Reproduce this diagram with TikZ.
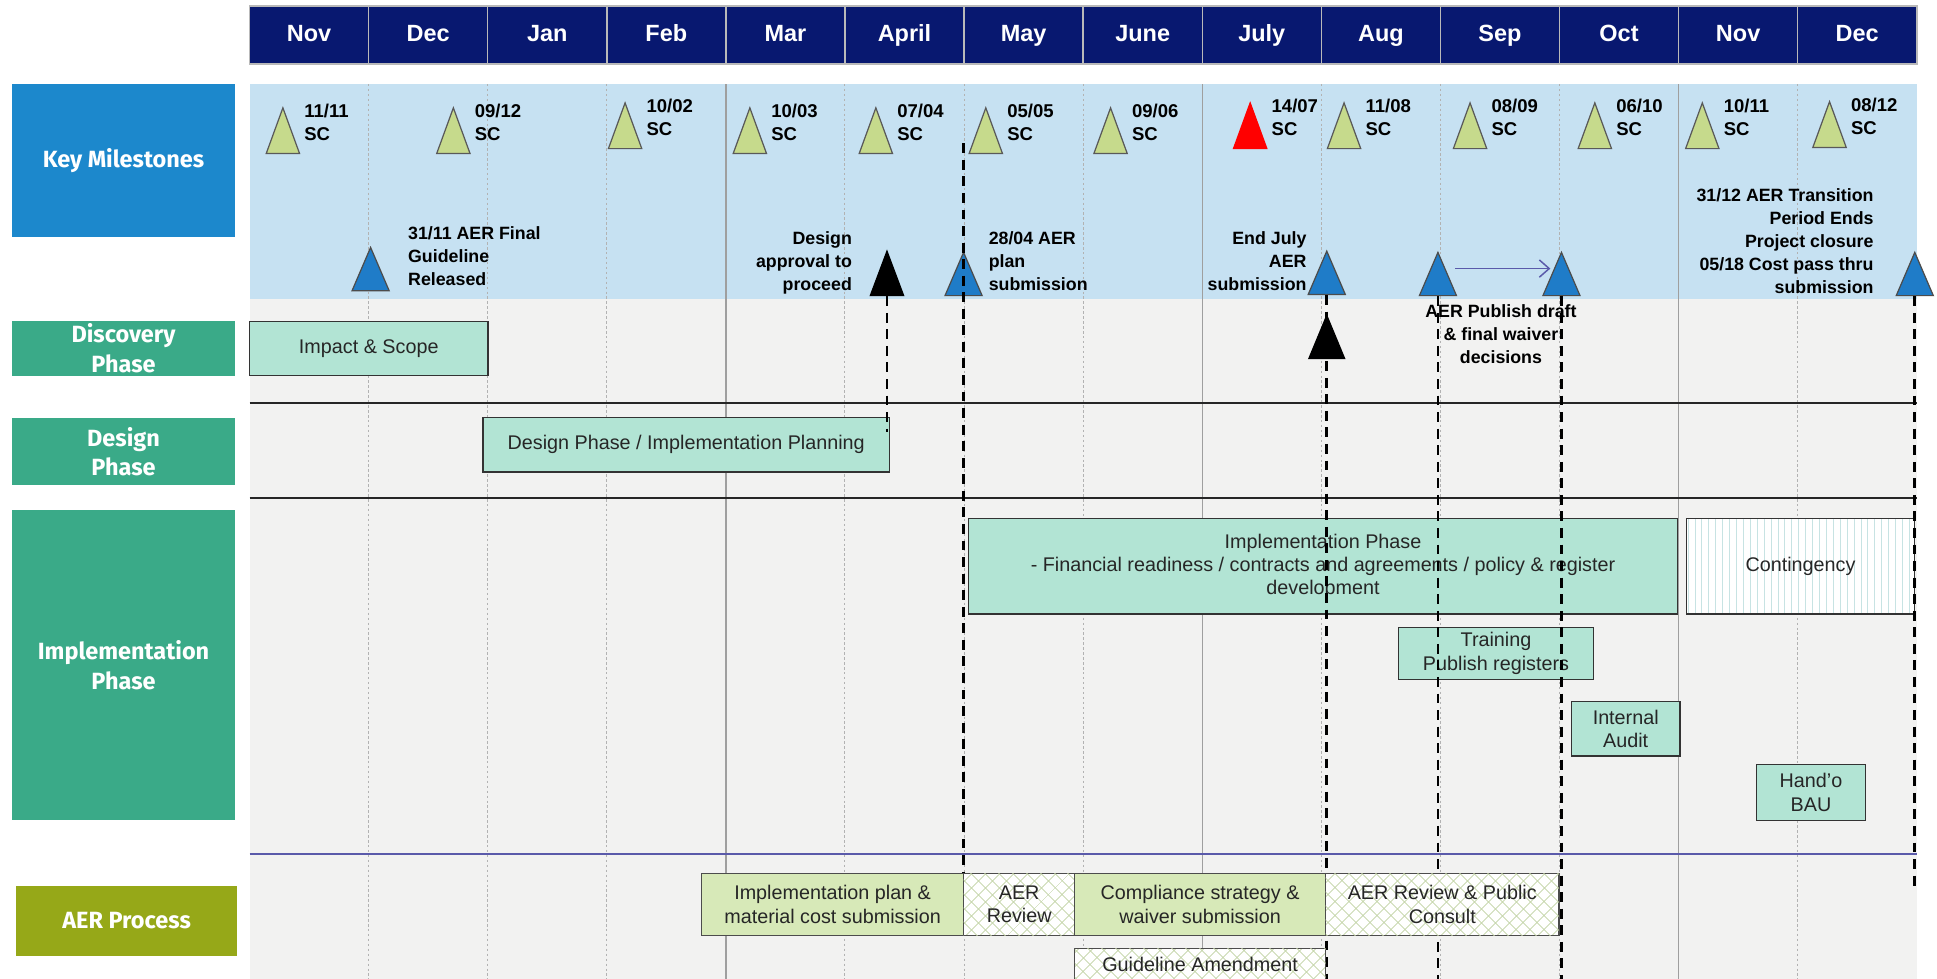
\documentclass[tikz,border=0pt]{standalone}
\usepackage{fontspec}
\setmainfont{Liberation Sans}
\newfontfamily\headfont{Fira Sans}
\usepackage{tikz}
\usetikzlibrary{positioning}
\usetikzlibrary{shapes.geometric}
\usetikzlibrary{arrows.meta}
\usetikzlibrary{patterns.meta}
\definecolor{navy}{RGB}{8,24,112}
\definecolor{keyblue}{RGB}{28,136,204}
\definecolor{bandblue}{RGB}{198,225,242}
\definecolor{field}{RGB}{242,242,241}
\definecolor{phasegreen}{RGB}{58,170,136}
\definecolor{aerolive}{RGB}{150,168,24}
\definecolor{mint}{RGB}{178,228,212}
\definecolor{aergreen}{RGB}{215,233,184}
\definecolor{scgreen}{RGB}{198,218,140}
\definecolor{dueblue}{RGB}{31,124,200}
\definecolor{hatchgreen}{RGB}{196,212,168}
\definecolor{lanepurple}{RGB}{90,90,170}
\tikzset{
  box/.style            = { rectangle, inner sep=1pt, outer sep=0pt, align=center },
  border/.style         = { draw=black!80, line width=0.5pt },
  month/.style          = { box, fill=navy, draw=gray!55, line width=0.6pt, text=white,
                            font=\bfseries\fontsize{9.5}{11}\selectfont,
                            text height=7pt, text depth=2pt,
                            minimum width=48.2pt, minimum height=23.5pt },
  rowhead/.style        = { box, anchor=north west, text=white, minimum width=90pt,
                            font=\headfont\bfseries\fontsize{9.5}{12}\selectfont },
  milestones/.style     = { rowhead, fill=keyblue },
  phase/.style          = { rowhead, fill=phasegreen },
  process/.style        = { rowhead, fill=aerolive },
}
\tikzset{
  task/.style           = { box, border, anchor=north west, fill=mint, text=black!85,
                            font=\fontsize{8}{9.5}\selectfont },
  submit/.style         = { task, fill=aergreen, draw=black!70 },
  review/.style         = { task, draw=black!70, preaction={fill=white},
                            pattern={Lines[angle=45,distance=4pt,line width=0.4pt]},
                            pattern color=hatchgreen,
                            postaction={pattern={Lines[angle=-45,distance=4pt,line width=0.4pt]},
                                        pattern color=hatchgreen} },
  spare/.style          = { task, preaction={fill=white},
                            pattern={Lines[angle=90,distance=2.8pt,line width=0.3pt]},
                            pattern color=teal!22 },
  sc/.style             = { isosceles triangle, isosceles triangle stretches,
                            shape border rotate=90, anchor=apex, inner sep=0pt,
                            minimum width=13.5pt, minimum height=18.5pt,
                            fill=scgreen, draw=black!65, line width=0.5pt },
  due/.style            = { sc, fill=dueblue, draw=black!70,
                            minimum width=15pt, minimum height=17.5pt },
  gate/.style           = { sc, fill=black, draw=black,
                            minimum width=13.5pt, minimum height=18pt },
  scdate/.style         = { anchor=north west, inner sep=0pt, align=left,
                            font=\bfseries\fontsize{7.5}{9.2}\selectfont },
  msnote/.style         = { inner sep=0pt, font=\bfseries\fontsize{7.2}{9.3}\selectfont },
  minor/.style          = { draw=gray!60, line width=0.4pt, dash pattern=on 1pt off 1pt },
  major/.style          = { draw=gray!75, line width=0.5pt },
  rule/.style           = { draw=black!85, line width=0.7pt },
  lane/.style           = { draw=lanepurple, line width=0.8pt },
  mline/.style          = { draw=black, line width=1.1pt, dash pattern=on 4pt off 2.7pt },
  flow/.style           = { draw=lanepurple, line width=0.6pt,
                            -{Straight Barb[length=4pt,width=7pt]} }
}
\begin{document}
\begin{tikzpicture}[x=0.5pt, y=-0.5pt]
  \clip (0,0) rectangle (1568,792);
  \coordinate (gridtop)  at (0,68);
  \coordinate (floor)    at (0,800);
  \coordinate (aerline)  at (0,707);
  \coordinate (endmark)  at (0,720);
  \coordinate (top0428)  at (780,116);

  % backdrop
  \fill [bandblue] (202,68)  rectangle (1552,242);
  \fill [field]    (202,242) rectangle (1552,800);

  % months
  \node (nov)  [month, anchor=north west] at (202,5) {Nov};
  \node (dec)  [month, right=0pt of nov]  {Dec};
  \node (jan)  [month, right=0pt of dec]  {Jan};
  \node (feb)  [month, right=0pt of jan]  {Feb};
  \node (mar)  [month, right=0pt of feb]  {Mar};
  \node (apr)  [month, right=0pt of mar]  {April};
  \node (may)  [month, right=0pt of apr]  {May};
  \node (jun)  [month, right=0pt of may]  {June};
  \node (jul)  [month, right=0pt of jun]  {July};
  \node (aug)  [month, right=0pt of jul]  {Aug};
  \node (sep)  [month, right=0pt of aug]  {Sep};
  \node (oct)  [month, right=0pt of sep]  {Oct};
  \node (nov2) [month, right=0pt of oct]  {Nov};
  \node (dec2) [month, right=0pt of nov2] {Dec};

  \draw [minor] (nov.east |- gridtop) -- (nov.east |- floor)
                (dec.east |- gridtop) -- (dec.east |- floor)
                (jan.east |- gridtop) -- (jan.east |- floor)
                (mar.east |- gridtop) -- (mar.east |- floor)
                (apr.east |- gridtop) -- (apr.east |- floor)
                (may.east |- gridtop) -- (may.east |- floor)
                (jul.east |- gridtop) -- (jul.east |- floor)
                (aug.east |- gridtop) -- (aug.east |- floor)
                (sep.east |- gridtop) -- (sep.east |- floor)
                (nov2.east |- gridtop) -- (nov2.east |- floor);
  \draw [major] (feb.east |- gridtop) -- (feb.east |- floor)
                (jun.east |- gridtop) -- (jun.east |- floor)
                (oct.east |- gridtop) -- (oct.east |- floor);

  \draw [rule] (202,326) -- (1552,326);
  \draw [rule] (202,403) -- (1552,403);
  \draw [lane] (202,691) -- (1552,691);

  % row heads
  \node (keyms)     [milestones, minimum height=62pt]    at (10,68)  {Key Milestones};
  \node (discovery) [phase, minimum height=22pt]         at (10,260) {Discovery\\Phase};
  \node (designrow) [phase, minimum height=27.5pt]       at (10,338) {Design\\Phase};
  \node (implrow)   [phase, minimum height=125.5pt]      at (10,413) {Implementation\\Phase};
  \node (aerrow)    [process, minimum width=89.5pt, minimum height=28.5pt] at (13,717) {AER Process};

  % phases
  \node (scope)    [task, minimum width=96.5pt, minimum height=22pt]   at (202,260)  {Impact \& Scope};
  \node (plan)     [task, minimum width=164.5pt, minimum height=22pt]  at (391,338)  {Design Phase / Implementation Planning};
  \node (build)    [task, minimum width=287pt, minimum height=38.5pt]  at (784,420)  {Implementation Phase\\- Financial readiness / contracts and agreements / policy \& register\\development};
  \node (spare)    [spare, minimum width=92.5pt, minimum height=38.5pt] at (1365,420) {Contingency};
  \node (train)    [task, minimum width=79pt, minimum height=21pt]     at (1132,508) {Training\\Publish registers};
  \node (audit)    [task, minimum width=44pt, minimum height=22pt]     at (1272,568) {Internal\\Audit};
  \node (handover) [task, minimum width=44pt, minimum height=22.5pt]   at (1422,619) {Hand'o\\BAU};

  % steering committees
  \node (t1111) [sc] at (229,86)  {};
  \node (t0912) [sc] at (367,86)  {};
  \node (t1002) [sc] at (506,82)  {};
  \node (t1003) [sc] at (607,86)  {};
  \node (t0704) [sc] at (709,86)  {};
  \node (t0505) [sc] at (798,86)  {};
  \node (t0906) [sc] at (899,86)  {};
  \node (t1407) [sc, fill=red, draw=red] at (1012,82) {};
  \node (t1108) [sc] at (1088,82) {};
  \node (t0809) [sc] at (1190,82) {};
  \node (t0610) [sc] at (1291,82) {};
  \node (t1011) [sc] at (1378,82) {};
  \node (t0812) [sc] at (1481,81) {};
  \node (d1111) [scdate] at ([xshift=8.5pt,yshift=1pt]t1111.apex) {11/11\\SC};
  \node (d0912) [scdate] at ([xshift=8.5pt,yshift=1pt]t0912.apex) {09/12\\SC};
  \node (d1002) [scdate] at ([xshift=8.5pt,yshift=1pt]t1002.apex) {10/02\\SC};
  \node (d1003) [scdate] at ([xshift=8.5pt,yshift=1pt]t1003.apex) {10/03\\SC};
  \node (d0704) [scdate] at ([xshift=8.5pt,yshift=1pt]t0704.apex) {07/04\\SC};
  \node (d0505) [scdate] at ([xshift=8.5pt,yshift=1pt]t0505.apex) {05/05\\SC};
  \node (d0906) [scdate] at ([xshift=8.5pt,yshift=1pt]t0906.apex) {09/06\\SC};
  \node (d1407) [scdate] at ([xshift=8.5pt,yshift=1pt]t1407.apex) {14/07\\SC};
  \node (d1108) [scdate] at ([xshift=8.5pt,yshift=1pt]t1108.apex) {11/08\\SC};
  \node (d0809) [scdate] at ([xshift=8.5pt,yshift=1pt]t0809.apex) {08/09\\SC};
  \node (d0610) [scdate] at ([xshift=8.5pt,yshift=1pt]t0610.apex) {06/10\\SC};
  \node (d1011) [scdate] at ([xshift=8.5pt,yshift=1pt]t1011.apex) {10/11\\SC};
  \node (d0812) [scdate] at ([xshift=8.5pt,yshift=1pt]t0812.apex) {08/12\\SC};

  % key dates
  \node (t3111)    [due]  at (300,199)  {};
  \node (tapprove) [gate] at (718,202)  {};
  \node (t2804)    [due]  at (780,203)  {};
  \node (tjuly)    [due]  at (1074,202) {};
  \node (tpub)     [due]  at (1164,203) {};
  \node (tfinal)   [due]  at (1264,203) {};
  \node (tclose)   [due]  at (1550,203) {};
  \node (n3111)    [msnote, anchor=north west, align=left]
        at ([xshift=15pt,yshift=8pt]t3111.apex) {31/11 AER Final\\Guideline\\Released};
  \node (napprove) [msnote, anchor=north east, align=right]
        at ([xshift=-14pt,yshift=7.5pt]tapprove.apex) {Design\\approval to\\proceed};
  \node (n2804)    [msnote, anchor=north west, align=left]
        at ([xshift=10pt,yshift=8pt]t2804.apex) {28/04 AER\\plan\\submission};
  \node (njuly)    [msnote, anchor=north east, align=right]
        at ([xshift=-8pt,yshift=7.5pt]tjuly.apex) {End July\\AER\\submission};
  \node (nclose)   [msnote, anchor=north east, align=right]
        at ([xshift=-16.5pt,yshift=25.5pt]tclose.apex) {31/12 AER Transition\\Period Ends\\Project closure\\05/18 Cost pass thru\\submission};
  \node (npub)     [msnote, anchor=north, align=center]
        at ([xshift=25.5pt,yshift=-21.5pt]tpub.apex) {AER Publish draft\\\& final waiver\\decisions};

  \draw [flow, shorten <=7pt, shorten >=4.5pt] ([yshift=6pt]tpub.center) -- ([yshift=6pt]tfinal.center);

  % hand-offs
  \draw [mline] (tapprove.south) -- ([yshift=-6pt]tapprove.south |- plan.north);
  \draw [mline] (top0428) -- (top0428 |- aerline);
  \draw [mline] (tjuly.south) -- (tjuly.south |- floor);
  \draw [mline] (tpub.south) -- (tpub.south |- floor);
  \draw [mline] (tfinal.south) -- (tfinal.south |- floor);
  \draw [mline] (tclose.south) -- (tclose.south |- endmark);
  \node (tsubmit) [gate, minimum width=14.5pt, minimum height=17.5pt] at (1074,254) {};

  % AER process
  \node (implplan) [submit, minimum width=106pt, minimum height=25pt]   at (568,707) {Implementation plan \&\\material cost submission};
  \node (aerrev)   [review, minimum width=45pt, minimum height=25pt, right=0pt of implplan]  {AER\\Review};
  \node (comply)   [submit, minimum width=101.5pt, minimum height=25pt, right=0pt of aerrev] {Compliance strategy \&\\waiver submission};
  \node (consult)  [review, minimum width=94.5pt, minimum height=25pt, right=0pt of comply]  {AER Review \& Public\\Consult};
  \node (amend)    [review, minimum width=101.5pt, minimum height=13pt, anchor=north west]
        at ([yshift=-5.5pt]comply.south west) {Guideline Amendment};
\end{tikzpicture}
\end{document}
